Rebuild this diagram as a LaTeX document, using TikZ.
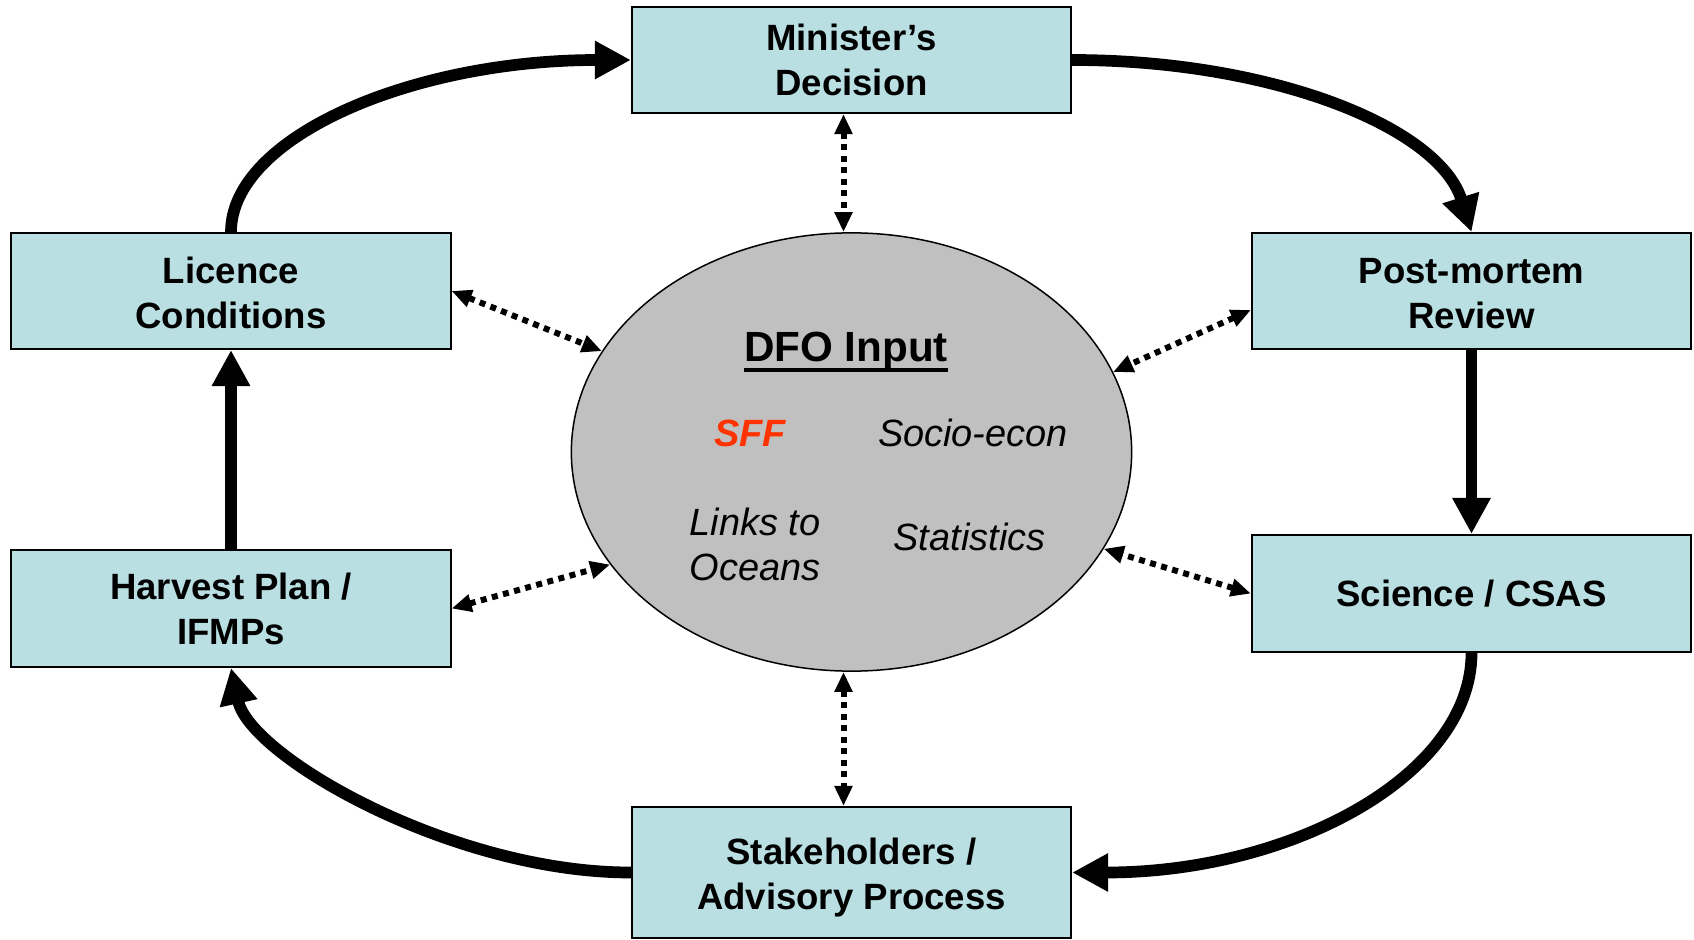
\documentclass[tikz,border=0pt]{standalone}
\usepackage{fontspec}
\setmainfont{Liberation Sans}
\usetikzlibrary{shapes.geometric,arrows.meta}
\definecolor{boxfill}{RGB}{185,223,227}
\definecolor{ellfill}{RGB}{192,192,192}
\definecolor{sffred}{RGB}{255,51,0}
\newcommand\boxfnt{\bfseries\fontsize{10.4}{12.8}\selectfont}
\newcommand\itfnt{\itshape\fontsize{10.8}{12.8}\selectfont}
\newcommand\myul[1]{\setbox0\hbox{#1}\rlap{\usebox0}\rule[-0.1cm]{\wd0}{0.04cm}}
\begin{document}
\begin{tikzpicture}[x=0.01cm,y=-0.01cm,
  box/.style={draw=black, line width=0.02cm, fill=boxfill, minimum width=4.39cm,
    minimum height=#1, inner sep=0pt, align=center, font=\boxfnt},
  ellbox/.style={ellipse, draw=black, line width=0.015cm, fill=ellfill,
    minimum width=5.6cm, minimum height=4.38cm, inner sep=0pt},
  itlabel/.style={font=\itfnt, inner sep=0pt, align=center},
  flow/.style={line width=0.117cm, -{Triangle[length=0.36cm,width=0.36cm]}},
  link/.style={line width=0.06cm, dash pattern=on 0.06cm off 0.055cm,
    {Triangle[length=0.2cm,width=0.17cm]}-{Triangle[length=0.2cm,width=0.17cm]}}
]
\useasboundingbox (0,0) rectangle (1694,940);

\node[box=1.06cm] (min) at (851.5,60) {Minister’s\\Decision};
\node[box=1.16cm] (lic) at (231,291) {\rule{0pt}{0.3cm}Licence\\Conditions};
\node[box=1.16cm] (pm) at (1471.5,291) {\rule{0pt}{0.3cm}Post-mortem\\Review};
\node[box=1.17cm] (harv) at (231,608.5) {Harvest Plan /\\IFMPs};
\node[box=1.17cm] (sci) at (1471.5,593.5) {Science / CSAS};
\node[box=1.31cm] (stk) at (851.5,872.5) {\rule{0pt}{0.37cm}Stakeholders /\\Advisory Process};

\node[ellbox] (ell) at (851.5,452) {};

\node[anchor=base, inner sep=0pt, font=\bfseries\fontsize{12}{14}\selectfont] (dfo) at (846,361.7) {\myul{DFO Input}};
\node[anchor=base, inner sep=0pt, text=sffred, font=\bfseries\itshape\fontsize{10.8}{12.8}\selectfont] (sff) at (750,446.7) {SFF};
\node[anchor=base, itlabel] (soc) at (973,446.7) {Socio-econ};
\node[itlabel] (lnk) at (755,544) {Links to\\Oceans};
\node[anchor=base, itlabel] (stat) at (969.6,550) {Statistics};

% main cycle
\draw[flow] (lic.north) .. controls (231,137.5) and (411,60) .. (min.west);
\draw[flow] (min.east) .. controls (1271.7,60) and (1438.7,127) .. (pm.north);
\draw[flow] (pm.south) -- (sci.north);
\draw[flow] (sci.south) .. controls (1471.5,774.7) and (1292.5,872.5) .. (stk.east);
\draw[flow] (stk.west) .. controls (451.7,872.5) and (250.2,756.4) .. (harv.south);
\draw[flow] (harv.north) -- (lic.south);

% links to DFO input
\draw[link] ([xshift=-0.08cm]min.south) -- ([xshift=-0.08cm]ell.north);
\draw[link] ([xshift=-0.08cm]ell.south) -- ([xshift=-0.08cm]stk.north);
\draw[link] (lic.east) -- (ell.158.7);
\draw[link] (harv.east) -- (ell.205.4);
\draw[link] ([yshift=-0.19cm]pm.west) -- (ell.17.5);
\draw[link] (sci.west) -- (ell.-21.4);
\end{tikzpicture}
\end{document}
